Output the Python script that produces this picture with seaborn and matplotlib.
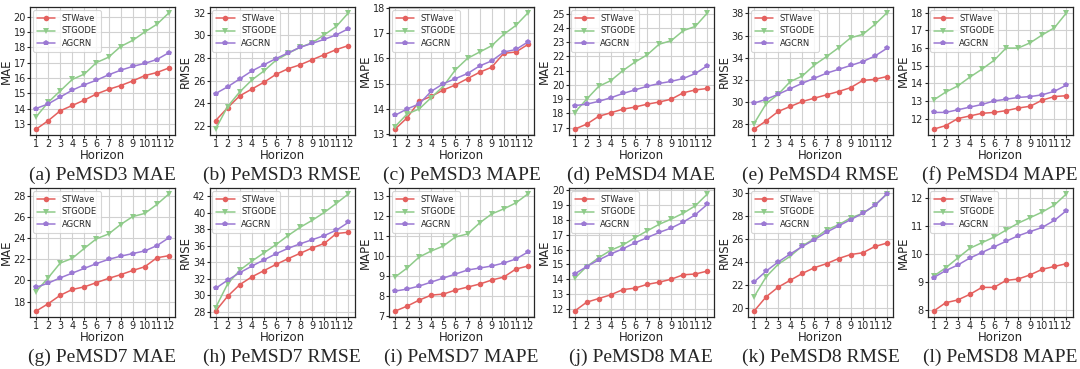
import matplotlib
matplotlib.use("Agg")
import matplotlib.pyplot as plt
import seaborn as sns
from matplotlib.ticker import MultipleLocator

horizon = list(range(1, 13))
models = ["STWave", "STGODE", "AGCRN"]

# PeMSD3
d3_mae_stwave = [12.65, 13.2, 13.85, 14.2, 14.55, 14.95, 15.25, 15.5, 15.8, 16.15, 16.35, 16.65]
d3_mae_stgode = [13.45, 14.4, 15.15, 15.9, 16.25, 17.0, 17.35, 18.05, 18.45, 19.0, 19.5, 20.25]
d3_mae_agcrn = [14.0, 14.3, 14.75, 15.2, 15.55, 15.85, 16.2, 16.5, 16.75, 16.95, 17.2, 17.65]
d3_rmse_stwave = [22.45, 23.6, 24.65, 25.25, 25.85, 26.55, 27.05, 27.4, 27.85, 28.3, 28.75, 29.1]
d3_rmse_stgode = [21.7, 23.7, 25.0, 26.05, 26.85, 27.8, 28.4, 28.95, 29.35, 30.05, 30.8, 32.0]
d3_rmse_agcrn = [24.85, 25.45, 26.15, 26.85, 27.4, 27.95, 28.45, 28.95, 29.3, 29.65, 30.05, 30.6]
d3_mape_stwave = [13.2, 13.65, 14.3, 14.5, 14.75, 14.95, 15.2, 15.45, 15.65, 16.2, 16.25, 16.55]
d3_mape_stgode = [13.3, 13.8, 14.0, 14.45, 14.9, 15.55, 16.0, 16.25, 16.5, 16.95, 17.3, 17.8]
d3_mape_agcrn = [13.75, 14.0, 14.2, 14.7, 15.0, 15.2, 15.4, 15.7, 15.9, 16.25, 16.35, 16.65]

# PeMSD4
d4_mae_stwave = [16.9, 17.25, 17.8, 18.05, 18.3, 18.45, 18.65, 18.8, 19.0, 19.45, 19.65, 19.75]
d4_mae_stgode = [18.05, 19.0, 19.9, 20.3, 21.0, 21.6, 22.1, 22.85, 23.1, 23.8, 24.1, 25.05]
d4_mae_agcrn = [18.55, 18.65, 18.85, 19.1, 19.4, 19.65, 19.9, 20.1, 20.25, 20.45, 20.8, 21.35]
d4_rmse_stwave = [27.55, 28.3, 29.15, 29.6, 30.05, 30.35, 30.65, 30.95, 31.3, 31.95, 32.05, 32.3]
d4_rmse_stgode = [28.05, 29.85, 30.7, 31.85, 32.35, 33.35, 34.1, 34.9, 35.8, 36.1, 37.0, 38.05]
d4_rmse_agcrn = [29.9, 30.25, 30.7, 31.2, 31.7, 32.15, 32.6, 32.95, 33.3, 33.65, 34.15, 34.85]
d4_mape_stwave = [11.4, 11.6, 12.0, 12.15, 12.3, 12.35, 12.45, 12.6, 12.7, 13.05, 13.25, 13.3]
d4_mape_stgode = [13.05, 13.5, 13.85, 14.35, 14.8, 15.3, 16.0, 16.0, 16.3, 16.75, 17.15, 18.0]
d4_mape_agcrn = [12.35, 12.35, 12.5, 12.65, 12.8, 13.0, 13.1, 13.2, 13.25, 13.35, 13.55, 13.9]

# PeMSD7
d7_mae_stwave = [17.1, 17.8, 18.6, 19.15, 19.4, 19.8, 20.2, 20.55, 20.95, 21.3, 22.15, 22.35]
d7_mae_stgode = [18.95, 20.25, 21.65, 22.1, 23.05, 23.95, 24.4, 25.3, 26.05, 26.35, 27.2, 28.2]
d7_mae_agcrn = [19.35, 19.75, 20.25, 20.7, 21.15, 21.6, 22.0, 22.3, 22.55, 22.8, 23.3, 24.05]
d7_rmse_stwave = [28.1, 29.9, 31.3, 32.25, 33.0, 33.75, 34.45, 35.1, 35.75, 36.3, 37.5, 37.65]
d7_rmse_stgode = [28.5, 31.4, 33.05, 34.15, 35.15, 36.15, 37.25, 38.25, 39.1, 40.05, 41.15, 42.3]
d7_rmse_agcrn = [30.85, 31.85, 32.75, 33.55, 34.3, 35.05, 35.7, 36.25, 36.75, 37.25, 37.9, 38.85]
d7_mape_stwave = [7.25, 7.5, 7.8, 8.05, 8.1, 8.3, 8.45, 8.6, 8.8, 8.95, 9.35, 9.5]
d7_mape_stgode = [8.95, 9.4, 9.95, 10.25, 10.5, 10.95, 11.1, 11.65, 12.1, 12.35, 12.65, 13.1]
d7_mape_agcrn = [8.25, 8.35, 8.5, 8.7, 8.9, 9.1, 9.3, 9.4, 9.5, 9.65, 9.85, 10.2]

# PeMSD8
d8_mae_stwave = [11.85, 12.45, 12.7, 12.95, 13.3, 13.4, 13.65, 13.8, 14.0, 14.3, 14.35, 14.55]
d8_mae_stgode = [14.05, 14.85, 15.45, 15.95, 16.3, 16.8, 17.25, 17.7, 18.05, 18.45, 18.95, 19.75]
d8_mae_agcrn = [14.35, 14.85, 15.3, 15.7, 16.05, 16.45, 16.8, 17.15, 17.45, 17.85, 18.35, 19.05]
d8_rmse_stwave = [19.7, 20.95, 21.8, 22.4, 23.0, 23.5, 23.85, 24.3, 24.65, 24.8, 25.35, 25.65]
d8_rmse_stgode = [20.95, 22.7, 23.8, 24.5, 25.4, 26.05, 26.8, 27.25, 27.85, 28.25, 28.95, 29.95]
d8_rmse_agcrn = [22.25, 23.2, 24.0, 24.7, 25.35, 25.95, 26.6, 27.15, 27.7, 28.25, 28.95, 29.95]
d8_mape_stwave = [7.95, 8.25, 8.35, 8.55, 8.8, 8.8, 9.05, 9.1, 9.25, 9.45, 9.55, 9.65]
d8_mape_stgode = [9.2, 9.5, 9.85, 10.2, 10.4, 10.6, 10.85, 11.1, 11.3, 11.5, 11.75, 12.15]
d8_mape_agcrn = [9.15, 9.4, 9.6, 9.85, 10.05, 10.25, 10.45, 10.65, 10.8, 10.95, 11.2, 11.55]

captions = ["(a) PeMSD3 MAE", "(b) PeMSD3 RMSE", "(c) PeMSD3 MAPE",
            "(d) PeMSD4 MAE", "(e) PeMSD4 RMSE", "(f) PeMSD4 MAPE",
            "(g) PeMSD7 MAE", "(h) PeMSD7 RMSE", "(i) PeMSD7 MAPE",
            "(j) PeMSD8 MAE", "(k) PeMSD8 RMSE", "(l) PeMSD8 MAPE"]
ylabels = ["MAE", "RMSE", "MAPE"] * 4
ysteps = [1, 2, 1, 1, 2, 1, 2, 2, 1, 1, 2, 1]

panels = [
    (d3_mae_stwave, d3_mae_stgode, d3_mae_agcrn),
    (d3_rmse_stwave, d3_rmse_stgode, d3_rmse_agcrn),
    (d3_mape_stwave, d3_mape_stgode, d3_mape_agcrn),
    (d4_mae_stwave, d4_mae_stgode, d4_mae_agcrn),
    (d4_rmse_stwave, d4_rmse_stgode, d4_rmse_agcrn),
    (d4_mape_stwave, d4_mape_stgode, d4_mape_agcrn),
    (d7_mae_stwave, d7_mae_stgode, d7_mae_agcrn),
    (d7_rmse_stwave, d7_rmse_stgode, d7_rmse_agcrn),
    (d7_mape_stwave, d7_mape_stgode, d7_mape_agcrn),
    (d8_mae_stwave, d8_mae_stgode, d8_mae_agcrn),
    (d8_rmse_stwave, d8_rmse_stgode, d8_rmse_agcrn),
    (d8_mape_stwave, d8_mape_stgode, d8_mape_agcrn),
]

colors = ["#e4605e", "#8fcb8a", "#9b79d3"]
markers = ["o", "v", "p"]

sns.set_style("whitegrid", {"axes.edgecolor": "0.15", "grid.color": "0.82"})
plt.rcParams["font.family"] = ["DejaVu Sans"]

W, H = 1080, 369
fig = plt.figure(figsize=(W / 100, H / 100), dpi=100)

left0, step, aw = 30, 179.5, 145
rows = [(7, 135, 175), (188, 317, 357)]  # axes top, axes bottom, caption centre (px)

for i, series in enumerate(panels):
    r, c = divmod(i, 6)
    top, bottom, cap_y = rows[r]
    x0 = left0 + c * step
    ax = fig.add_axes([x0 / W, 1 - bottom / H, aw / W, (bottom - top) / H])
    for name, vals, col, mk in zip(models, series, colors, markers):
        sns.lineplot(x=horizon, y=vals, ax=ax, color=col, marker=mk,
                     markersize=4, markeredgewidth=0, linewidth=1.1,
                     label=name)
    ax.set_xticks(horizon)
    ax.set_xlim(0.5, 12.5)
    ax.yaxis.set_major_locator(MultipleLocator(ysteps[i]))
    ax.tick_params(axis="both", labelsize=7, length=2, pad=1, color="0.15")
    ax.tick_params(axis="both", which="major", bottom=True, left=True)
    ax.set_xlabel("Horizon", fontsize=8.5, labelpad=0)
    ax.set_ylabel(ylabels[i], fontsize=8.5, labelpad=0.5)
    for s in ax.spines.values():
        s.set_linewidth(0.9)
    leg = ax.legend(loc="upper left", fontsize=6, frameon=True,
                    handlelength=2.2, borderpad=0.45, labelspacing=0.45,
                    handletextpad=0.8, borderaxespad=0.35)
    leg.get_frame().set_edgecolor("0.8")
    leg.get_frame().set_linewidth(0.8)
    fig.text((x0 + aw / 2) / W, 1 - cap_y / H, captions[i], ha="center",
             va="center", fontsize=14, family="Liberation Serif")

fig.savefig("out.png", dpi=100)
